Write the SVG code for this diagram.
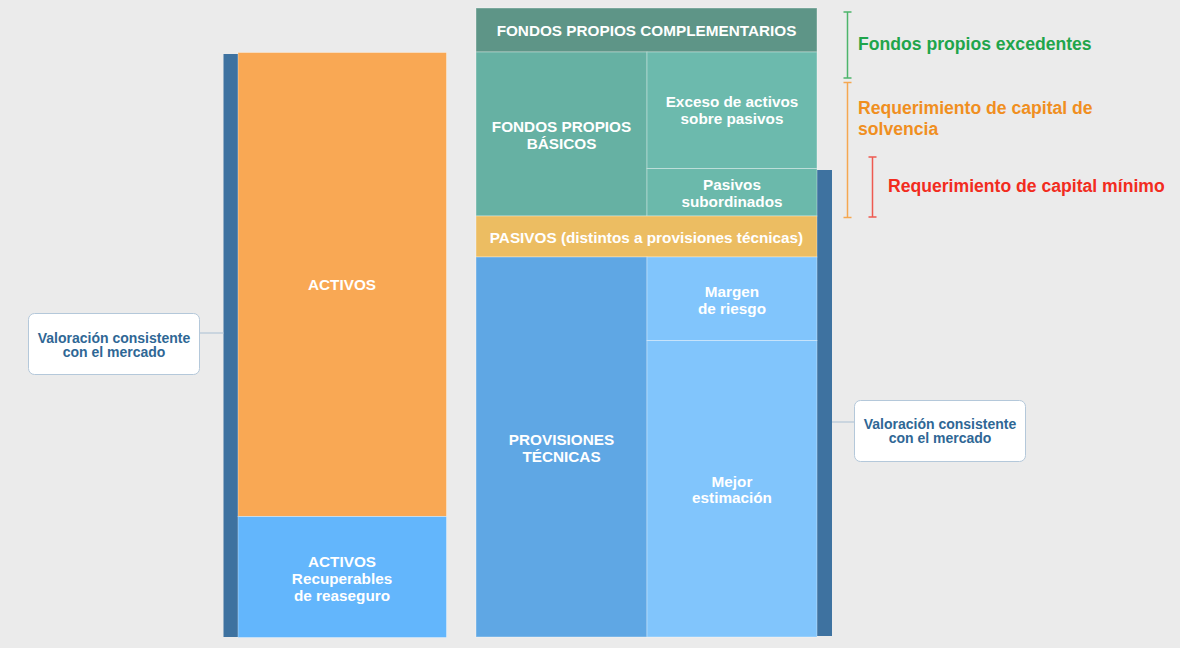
<svg xmlns="http://www.w3.org/2000/svg" width="1180" height="648" viewBox="0 0 1180 648">
<style>
.lbl{font-family:"Liberation Sans",Arial,sans-serif;font-weight:bold;font-size:15.3px;fill:#ffffff;text-anchor:middle}
.cal{font-family:"Liberation Sans",Arial,sans-serif;font-weight:bold;font-size:14px;fill:#2f6795;text-anchor:middle}
.side{font-family:"Liberation Sans",Arial,sans-serif;font-weight:bold;font-size:17.6px}
.cell{stroke:#ffffff;stroke-opacity:0.35;stroke-width:1}
.box{fill:#ffffff;stroke:#b4c8da;stroke-width:1}
.conn{stroke:#a9bfd3;stroke-width:1;fill:none}
</style>
<rect x="0" y="0" width="1180" height="648" fill="#ebebeb"/>

<g id="bar-left"><rect x="223.5" y="54" width="15" height="583" fill="#3e72a0"/></g>
<g id="bar-right"><rect x="817" y="170" width="15" height="466" fill="#3e72a0"/></g>

<g id="activos"><rect class="cell" x="238" y="52.5" width="208.5" height="464" fill="#f9a854"/>
<text class="lbl" x="342" y="290">ACTIVOS</text></g>
<g id="activos-reaseguro"><rect class="cell" x="238" y="516.5" width="208.5" height="121" fill="#63b6fc"/>
<text class="lbl" x="342" y="567">ACTIVOS</text>
<text class="lbl" x="342" y="584">Recuperables</text>
<text class="lbl" x="342" y="601">de reaseguro</text></g>

<g id="fp-complementarios"><rect class="cell" x="476" y="8" width="341" height="44" fill="#5e9587"/>
<text class="lbl" x="646.5" y="36">FONDOS PROPIOS COMPLEMENTARIOS</text></g>
<g id="fp-basicos"><rect class="cell" x="476" y="52" width="171" height="164" fill="#66b1a3"/>
<text class="lbl" x="561.5" y="132">FONDOS PROPIOS</text>
<text class="lbl" x="561.5" y="149">BÁSICOS</text></g>
<g id="exceso"><rect class="cell" x="647" y="52" width="170" height="116.5" fill="#6cbaad"/>
<text class="lbl" x="732" y="107">Exceso de activos</text>
<text class="lbl" x="732" y="124">sobre pasivos</text></g>
<g id="subordinados"><rect class="cell" x="647" y="168.5" width="170" height="47.5" fill="#6bb9ab"/>
<text class="lbl" x="732" y="190">Pasivos</text>
<text class="lbl" x="732" y="207">subordinados</text></g>
<g id="pasivos"><rect class="cell" x="476" y="216" width="341" height="41" fill="#ecbd62"/>
<text class="lbl" x="646.5" y="243">PASIVOS (distintos a provisiones técnicas)</text></g>
<g id="provisiones"><rect class="cell" x="476" y="257" width="171" height="380" fill="#5fa7e4"/>
<text class="lbl" x="561.5" y="445">PROVISIONES</text>
<text class="lbl" x="561.5" y="462">TÉCNICAS</text></g>
<g id="margen"><rect class="cell" x="647" y="257" width="170" height="83.5" fill="#81c5fc"/>
<text class="lbl" x="732" y="297">Margen</text>
<text class="lbl" x="732" y="314">de riesgo</text></g>
<g id="mejor"><rect class="cell" x="647" y="340.5" width="170" height="296.5" fill="#81c5fc"/>
<text class="lbl" x="732" y="487">Mejor</text>
<text class="lbl" x="732" y="503">estimación</text></g>

<g id="connectors">
<line class="conn" x1="200" y1="333" x2="224" y2="333"/>
<line class="conn" x1="832" y1="422" x2="854" y2="422"/>
</g>

<g id="callout-left"><rect class="box" x="28.5" y="313.5" width="171" height="61" rx="6"/>
<text class="cal" x="114" y="343">Valoración consistente</text>
<text class="cal" x="114" y="357">con el mercado</text></g>
<g id="callout-right"><rect class="box" x="854.5" y="400.5" width="171" height="61" rx="6"/>
<text class="cal" x="940" y="429">Valoración consistente</text>
<text class="cal" x="940" y="443">con el mercado</text></g>

<g id="excedentes">
<path d="M847.5 12V78M843.5 12H851.5M843.5 78H851.5" stroke="#4db56b" stroke-width="1.5" fill="none"/>
<text class="side" x="858" y="50" fill="#1fa54b">Fondos propios excedentes</text></g>
<g id="scr">
<path d="M847.5 82.5V217.5M843.5 82.5H851.5M843.5 217.5H851.5" stroke="#f5a750" stroke-width="1.5" fill="none"/>
<text class="side" x="858" y="114" fill="#f08f1f">Requerimiento de capital de</text>
<text class="side" x="858" y="135" fill="#f08f1f">solvencia</text></g>
<g id="mcr">
<path d="M872.5 157V217M868.5 157H876.5M868.5 217H876.5" stroke="#ee5a50" stroke-width="1.5" fill="none"/>
<text class="side" x="888" y="192" fill="#f22c1e">Requerimiento de capital mínimo</text></g>
</svg>
